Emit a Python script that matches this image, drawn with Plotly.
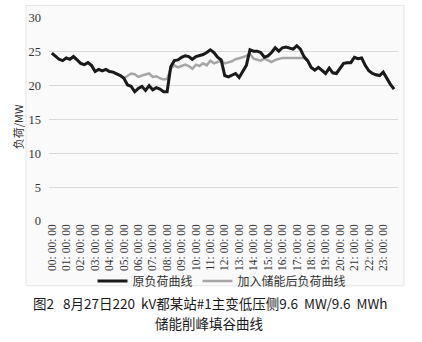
import plotly.graph_objects as go

# 15-minute load samples for one day (MW)
times = [f"{h:02d}: {m:02d}: 00" for h in range(24) for m in (0, 15, 30, 45)]

original_load = [
    24.8, 24.3, 23.9, 23.7, 24.1, 23.9, 24.3, 23.8, 23.3, 23.1, 23.4, 23.0,
    22.1, 22.4, 22.2, 22.4, 22.1, 22.0, 21.8, 21.5, 21.1, 20.1, 19.9, 19.1,
    19.6, 19.9, 19.3, 20.0, 19.4, 19.7, 19.5, 19.1, 19.1, 22.8, 23.7, 23.8,
    24.2, 24.4, 24.3, 23.9, 24.3, 24.4, 24.6, 24.9, 25.3, 24.9, 24.2, 23.8,
    21.5, 21.3, 21.6, 21.8, 21.2, 22.2, 23.0, 25.3, 25.1, 25.1, 24.9, 24.2,
    24.4, 24.9, 25.6, 25.1, 25.6, 25.7, 25.5, 25.4, 25.9, 25.4, 24.3, 23.7,
    22.7, 22.3, 22.7, 22.3, 21.8, 22.6, 21.9, 21.8, 22.6, 23.3, 23.4, 23.4,
    24.2, 24.0, 24.1, 23.0, 22.2, 21.8, 21.6, 21.5, 22.0, 21.0, 20.2, 19.5,
]

with_storage = [
    24.8, 24.3, 23.9, 23.7, 24.1, 23.9, 24.3, 23.8, 23.3, 23.1, 23.4, 23.0,
    22.1, 22.4, 22.2, 22.4, 22.1, 22.0, 21.8, 21.5, 21.1, 21.4, 21.8, 21.7,
    21.3, 21.5, 21.6, 21.8, 21.3, 21.4, 21.1, 20.9, 21.0, 22.5, 23.0, 22.7,
    22.9, 23.1, 22.9, 22.5, 23.1, 22.9, 23.3, 23.0, 23.7, 23.3, 23.5, 23.7,
    23.3, 23.4, 23.6, 23.9, 24.0, 24.2, 24.4, 24.7, 24.0, 23.8, 23.7, 24.0,
    23.7, 23.5, 23.8, 24.0, 24.1, 24.1, 24.1, 24.1, 24.1, 24.1, 24.1, 23.7,
    22.7, 22.3, 22.7, 22.3, 21.8, 22.6, 21.9, 21.8, 22.6, 23.3, 23.4, 23.4,
    24.2, 24.0, 24.1, 23.0, 22.2, 21.8, 21.6, 21.5, 22.0, 21.0, 20.2, 19.5,
]

y_ticks = [0, 5, 10, 15, 20, 25, 30]
hour_idx = list(range(0, 96, 4))
hour_labels = [times[i] for i in hour_idx]

x = list(range(len(times)))

serif = "Liberation Serif, Noto Sans CJK SC, serif"
cjk = "Noto Sans CJK SC, sans-serif"

fig = go.Figure()
fig.add_trace(go.Scatter(
    x=x, y=with_storage, mode="lines", name="加入储能后负荷曲线",
    line=dict(color="#a6a6a6", width=2.5), legendrank=2,
))
fig.add_trace(go.Scatter(
    x=x, y=original_load, mode="lines", name="原负荷曲线",
    line=dict(color="#1a1a1a", width=3), legendrank=1,
))

# plot area in pixels: left 49, right 398, top 11, bottom 221
L, R, T, B = 49, 398, 11, 221
W, H = 422, 342
pw, ph = R - L, B - T

def px(xp):
    return (xp - L) / pw

def py(yp):
    return (B - yp) / ph

fig.add_shape(
    type="rect", xref="paper", yref="paper",
    x0=px(26), x1=px(404), y0=py(288), y1=py(-2),
    fillcolor="#fafafa", line=dict(color="#e6e6e6", width=1), layer="below",
)

fig.add_annotation(
    xref="paper", yref="paper", x=px(18), y=py(124), text="负荷/MW",
    xanchor="center", yanchor="middle",
    textangle=-90, showarrow=False, font=dict(family=cjk, size=11, color="#333"),
)
fig.add_annotation(
    xref="paper", yref="paper", x=px(210), y=py(306),
    xanchor="center", yanchor="middle",
    text="图2\u00a0\u00a0\u00a08月27日220\u00a0\u00a0kV都某站#1主变低压侧9.6\u00a0\u00a0MW/9.6\u00a0\u00a0MWh",
    showarrow=False, font=dict(family=cjk, size=13.5, color="#1a1a1a"),
)
fig.add_annotation(
    xref="paper", yref="paper", x=px(209), y=py(326), text="储能削峰填谷曲线",
    xanchor="center", yanchor="middle",
    showarrow=False, font=dict(family=cjk, size=13.5, color="#1a1a1a"),
)

fig.update_layout(
    width=W, height=H,
    margin=dict(l=L, r=W - R, t=T, b=H - B),
    paper_bgcolor="white", plot_bgcolor="rgba(0,0,0,0)",
    showlegend=True,
    legend=dict(
        orientation="h", xref="paper", yref="paper",
        x=px(222), y=py(283), xanchor="center", yanchor="middle",
        font=dict(family=serif, size=12, color="#333"),
        bgcolor="rgba(0,0,0,0)", itemwidth=30,
    ),
    xaxis=dict(
        range=[-0.8, 96.1], tickmode="array", tickvals=hour_idx, ticktext=hour_labels,
        tickangle=-90, showgrid=False, zeroline=False, showline=False, ticks="",
        tickfont=dict(family=serif, size=11.5, color="#333"),
    ),
    yaxis=dict(
        range=[0, 30], tickmode="array", tickvals=y_ticks,
        showgrid=True, gridcolor="#d9d9d9", gridwidth=1, zeroline=False,
        showline=False, ticks="", tickfont=dict(family=serif, size=12.5, color="#333"),
        ticklabelstandoff=7,
    ),
)

fig.write_html("out.html")
